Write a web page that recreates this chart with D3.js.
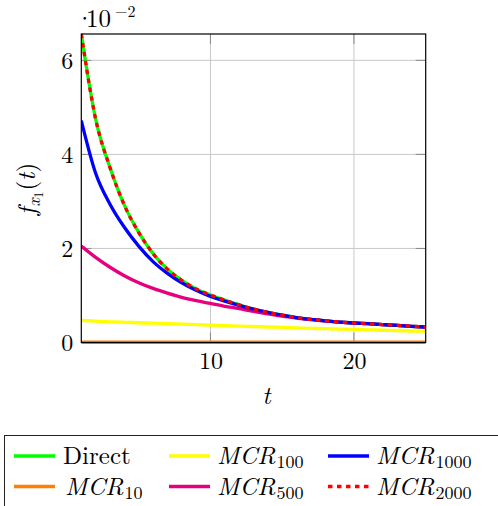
<!DOCTYPE html>
<html>
<head>
<meta charset="utf-8">
<script src="https://cdn.jsdelivr.net/npm/d3@7"></script>
<style>
  html, body { margin: 0; padding: 0; background: #fff; }
  svg { display: block; }
</style>
</head>
<body>
<div id="chart"></div>
<script>
// ---- data (values in units of 1e-2) ----
const tValues = d3.range(1, 26);
const direct  = [6.56, 4.75, 3.72, 2.92, 2.34, 1.89, 1.56, 1.32, 1.14, 1.01, 0.90, 0.80, 0.71, 0.64, 0.58, 0.53, 0.49, 0.46, 0.435, 0.415, 0.40, 0.38, 0.365, 0.345, 0.33];
const mcr10   = [0.005, 0.005, 0.005, 0.005, 0.005, 0.005, 0.005, 0.005, 0.005, 0.005, 0.005, 0.005, 0.005, 0.005, 0.005, 0.005, 0.005, 0.005, 0.005, 0.005, 0.005, 0.005, 0.005, 0.005, 0.005];
const mcr100  = [0.47, 0.455, 0.44, 0.43, 0.42, 0.41, 0.40, 0.39, 0.38, 0.37, 0.36, 0.35, 0.34, 0.33, 0.32, 0.31, 0.30, 0.295, 0.285, 0.28, 0.27, 0.26, 0.255, 0.245, 0.24];
const mcr500  = [2.05, 1.81, 1.60, 1.42, 1.27, 1.15, 1.05, 0.96, 0.89, 0.83, 0.77, 0.72, 0.66, 0.61, 0.56, 0.52, 0.485, 0.46, 0.435, 0.415, 0.40, 0.38, 0.365, 0.345, 0.33];
const mcr1000 = [4.72, 3.60, 2.94, 2.45, 2.05, 1.72, 1.47, 1.27, 1.11, 0.98, 0.88, 0.79, 0.71, 0.64, 0.58, 0.53, 0.49, 0.46, 0.435, 0.415, 0.40, 0.38, 0.365, 0.345, 0.33];
const mcr2000 = [6.56, 4.75, 3.72, 2.92, 2.34, 1.89, 1.56, 1.32, 1.14, 1.01, 0.90, 0.80, 0.71, 0.64, 0.58, 0.53, 0.49, 0.46, 0.435, 0.415, 0.40, 0.38, 0.365, 0.345, 0.33];
const xTicks = [10, 20];
const yTicks = [0, 2, 4, 6];

const seriesNames = ["Direct", "MCR", "MCR", "MCR", "MCR", "MCR"];
const seriesSubs  = ["", "10", "100", "500", "1000", "2000"];
const seriesColors = ["#00ff00", "#ff8000", "#ffff00", "#e6007e", "#0000ff", "#ff0000"];
const seriesData = [direct, mcr10, mcr100, mcr500, mcr1000, mcr2000];

const FONT = '"Latin Modern Roman", "Liberation Serif", serif';
const W = 498, H = 506;
const svg = d3.select("#chart").append("svg").attr("width", W).attr("height", H);

const x = d3.scaleLinear().domain([1, 25]).range([81.3, 425.7]);
const y = d3.scaleLinear().domain([0, 6.56]).range([342.5, 34]);

const L = x.range()[0], R = x.range()[1], T = y.range()[1], B = y.range()[0];

// clip
svg.append("clipPath").attr("id", "clip").append("rect")
  .attr("x", L).attr("y", T - 2).attr("width", R - L).attr("height", B - T + 4);

// grid
const grid = svg.append("g");
grid.selectAll(".gx").data(xTicks).join("line")
  .attr("x1", d => x(d)).attr("x2", d => x(d)).attr("y1", T).attr("y2", B)
  .attr("stroke", "#c8c8c8").attr("stroke-width", 1);
grid.selectAll(".gy").data(yTicks.filter(d => d > 0)).join("line")
  .attr("x1", L).attr("x2", R).attr("y1", d => y(d)).attr("y2", d => y(d))
  .attr("stroke", "#c8c8c8").attr("stroke-width", 1);

// inner tick marks (all four sides)
const tk = svg.append("g").attr("stroke", "#888").attr("stroke-width", 1);
xTicks.forEach(d => {
  tk.append("line").attr("x1", x(d)).attr("x2", x(d)).attr("y1", B).attr("y2", B - 10);
  tk.append("line").attr("x1", x(d)).attr("x2", x(d)).attr("y1", T).attr("y2", T + 10);
});
yTicks.forEach(d => {
  tk.append("line").attr("x1", L).attr("x2", L + 10).attr("y1", y(d)).attr("y2", y(d));
  tk.append("line").attr("x1", R).attr("x2", R - 10).attr("y1", y(d)).attr("y2", y(d));
});

// lines
const line = d3.line().x((d, i) => x(tValues[i])).y(d => y(d)).curve(d3.curveMonotoneX);
const plot = svg.append("g").attr("clip-path", "url(#clip)");
seriesData.forEach((data, i) => {
  const p = plot.append("path").datum(data)
    .attr("d", line)
    .attr("fill", "none")
    .attr("stroke", seriesColors[i])
    .attr("stroke-width", 3.3)
    .attr("stroke-linejoin", "round");
  if (i === 5) p.attr("stroke-dasharray", "4.5,4.5");
});

// frame
svg.append("rect").attr("x", L).attr("y", T).attr("width", R - L).attr("height", B - T)
  .attr("fill", "none").attr("stroke", "#000").attr("stroke-width", 1.2);

// axes tick labels
const xAxis = d3.axisBottom(x).tickValues(xTicks).tickSize(0).tickPadding(0).tickFormat(d3.format("d"));
const gx = svg.append("g").attr("transform", `translate(0,${B})`).call(xAxis);
gx.select(".domain").remove();
gx.selectAll("text").attr("font-size", 24).style("font-family", FONT)
  .attr("dy", null).attr("y", 26);

const yAxis = d3.axisLeft(y).tickValues(yTicks).tickSize(0).tickPadding(0).tickFormat(d3.format("d"));
const gy = svg.append("g").attr("transform", `translate(${L},0)`).call(yAxis);
gy.select(".domain").remove();
gy.selectAll("text").attr("font-size", 24).style("font-family", FONT)
  .attr("x", -8).attr("dy", "0.33em");

// scale factor label
svg.append("text").attr("x", 75).attr("y", 27).attr("font-size", 25).style("font-family", FONT).text("·");
const sf = svg.append("text").attr("x", 86).attr("y", 27).attr("font-size", 25).style("font-family", FONT);
sf.append("tspan").text("10");
sf.append("tspan").attr("font-size", 16).attr("dy", -10).attr("dx", 4).text("−2");

// axis labels
svg.append("text").attr("x", x(13.9)).attr("y", 404).attr("text-anchor", "middle")
  .style("font-family", FONT).attr("font-size", 25).attr("font-style", "italic").text("t");

const yl = svg.append("text").attr("transform", "translate(35,189) rotate(-90)")
  .attr("text-anchor", "middle").attr("font-size", 25).style("font-family", FONT);
yl.append("tspan").attr("font-style", "italic").text("f");
yl.append("tspan").attr("font-style", "italic").attr("font-size", 18).attr("dy", 5).attr("dx", 1).text("x");
yl.append("tspan").attr("font-size", 13).attr("dy", 3).text("1");
yl.append("tspan").attr("dy", -8).attr("dx", 1).text("(");
yl.append("tspan").attr("font-style", "italic").text("t");
yl.append("tspan").text(")");

// legend
const lg = svg.append("g");
lg.append("rect").attr("x", 4.5).attr("y", 435.5).attr("width", 520).attr("height", 100)
  .attr("fill", "#fff").attr("stroke", "#222").attr("stroke-width", 1);
const colX = [14, 169, 328];
const rowY = [456, 486.5];
seriesNames.forEach((name, i) => {
  const col = Math.floor(i / 2), row = i % 2;
  const cx = colX[col], cy = rowY[row];
  const s = lg.append("line").attr("x1", cx).attr("x2", cx + 41).attr("y1", cy).attr("y2", cy)
    .attr("stroke", seriesColors[i]).attr("stroke-width", 3.3);
  if (i === 5) s.attr("stroke-dasharray", "4.5,4.5");
  const t = lg.append("text").attr("x", cx + 49).attr("y", cy + 8).attr("font-size", 25).style("font-family", FONT);
  if (seriesSubs[i] === "") {
    t.text(name);
  } else {
    t.attr("x", cx + (i === 1 ? 51 : 48));
    t.append("tspan").attr("font-style", "italic").text(name);
    t.append("tspan").attr("font-size", 18).attr("dy", 4).attr("dx", 1).text(seriesSubs[i]);
  }
});
</script>
</body>
</html>
